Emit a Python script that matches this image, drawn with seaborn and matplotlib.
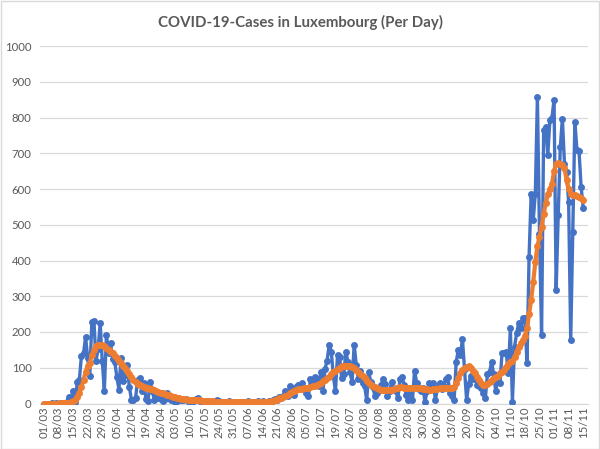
import numpy as np
import pandas as pd
import matplotlib
matplotlib.use("Agg")
import matplotlib.pyplot as plt
import seaborn as sns
from matplotlib.patches import Rectangle

TITLE = "COVID-19-Cases in Luxembourg (Per Day)"

tick_labels = ["01/03", "08/03", "15/03", "22/03", "29/03", "05/04", "12/04", "19/04",
               "26/04", "03/05", "10/05", "17/05", "24/05", "31/05", "07/06", "14/06",
               "21/06", "28/06", "05/07", "12/07", "19/07", "26/07", "02/08", "09/08",
               "16/08", "23/08", "30/08", "06/09", "13/09", "20/09", "27/09", "04/10",
               "11/10", "18/10", "25/10", "01/11", "08/11", "15/11"]

# Daily new cases, 01/03 .. 15/11
daily_mar = [0, 0, 0, 0, 1, 0, 1, 0, 1, 0, 2, 3, 19, 13, 35, 5, 59, 65, 134, 140, 186,
             128, 77, 228, 232, 120, 152, 225, 119, 36, 192]
daily_apr = [141, 168, 125, 117, 75, 39, 127, 64, 81, 108, 47, 11, 11, 15, 66, 71, 36,
             57, 13, 8, 60, 36, 11, 30, 16, 12, 6, 12, 28, 15]
daily_may = [11, 14, 5, 6, 10, 10, 9, 12, 7, 3, 2, 9, 12, 15, 6, 4, 3, 2, 8, 3, 5, 1, 10,
             7, 2, 4, 5, 3, 8, 4, 3]
daily_jun = [2, 1, 3, 5, 4, 2, 6, 3, 2, 5, 3, 7, 4, 6, 2, 5, 8, 6, 9, 12, 10, 18, 15, 22,
             35, 20, 48, 28, 24, 45]
daily_jul = [53, 50, 58, 40, 30, 20, 68, 60, 73, 68, 50, 87, 34, 97, 120, 165, 145, 77,
             34, 136, 131, 70, 82, 145, 116, 87, 60, 165, 107, 68, 90]
daily_aug = [58, 50, 10, 87, 60, 45, 20, 30, 40, 53, 68, 55, 20, 35, 60, 40, 34, 15, 68,
             73, 53, 25, 10, 39, 10, 92, 58, 40, 34, 44, 5]
daily_sep = [34, 58, 50, 58, 10, 44, 58, 40, 48, 68, 73, 29, 20, 10, 116, 150, 135, 180,
             97, 10, 55, 78, 68, 78, 53, 48, 44, 30, 15, 82]
daily_oct = [87, 116, 82, 34, 73, 56, 140, 140, 145, 84, 210, 5, 158, 196, 224, 210, 238,
             238, 112, 410, 587, 513, 587, 858, 475, 191, 765, 774, 695, 793, 800]
daily_nov = [850, 317, 527, 718, 797, 671, 648, 564, 178, 481, 788, 709, 705, 606, 547]

# 7-day average line, 01/03 .. 15/11
avg_mar = [0, 0, 0, 0, 0, 0, 0, 1, 1, 1, 1, 1, 2, 4, 8, 10, 18, 30, 47, 65, 88, 106, 113,
           135, 150, 160, 163, 164, 164, 160, 155]
avg_apr = [150, 145, 140, 134, 128, 120, 112, 105, 98, 90, 82, 74, 67, 60, 55, 51, 48, 46,
           44, 42, 41, 40, 37, 34, 32, 30, 29, 27, 25, 23]
avg_may = [21, 19, 17, 16, 14, 13, 12, 12, 11, 11, 10, 10, 10, 9, 9, 8, 8, 7, 7, 6, 6, 5,
           5, 5, 5, 5, 5, 5, 5, 4, 4]
avg_jun = [4, 4, 3, 3, 3, 3, 4, 4, 4, 4, 4, 4, 4, 5, 5, 5, 5, 6, 7, 9, 11, 14, 16, 19, 22,
           25, 28, 31, 34, 37]
avg_jul = [40, 40, 41, 42, 42, 43, 46, 48, 50, 52, 54, 58, 62, 66, 70, 75, 82, 88, 92, 96,
           100, 104, 105, 106, 106, 105, 102, 98, 94, 88, 82]
avg_aug = [76, 70, 64, 58, 52, 48, 45, 42, 40, 39, 38, 38, 38, 38, 39, 40, 42, 44, 46, 45,
           44, 43, 42, 42, 43, 44, 44, 43, 42, 41, 40]
avg_sep = [40, 39, 39, 40, 40, 41, 42, 42, 42, 43, 43, 42, 42, 45, 56, 70, 85, 95, 100,
           103, 105, 100, 92, 84, 75, 66, 58, 52, 52, 55]
avg_oct = [60, 66, 70, 73, 77, 84, 88, 94, 103, 110, 115, 118, 130, 145, 158, 168, 178,
           190, 210, 250, 290, 340, 396, 440, 465, 494, 530, 560, 585, 600, 615]
avg_nov = [650, 670, 673, 670, 668, 660, 625, 600, 585, 583, 583, 580, 578, 574, 569]

daily = (daily_mar + daily_apr + daily_may + daily_jun + daily_jul + daily_aug +
         daily_sep + daily_oct + daily_nov)
avg = (avg_mar + avg_apr + avg_may + avg_jun + avg_jul + avg_aug + avg_sep + avg_oct +
       avg_nov)
days = np.arange(len(daily))
df = pd.DataFrame({"day": days, "daily": daily, "avg": avg})

sns.set_theme(style="white")
plt.rcParams['font.family'] = ['Lato', 'DejaVu Sans']

W, H = 600, 449
fig = plt.figure(figsize=(W / 100, H / 100), dpi=100)
ax = fig.add_axes([40 / W, 1 - 403.5 / H, 548 / W, (403.5 - 46) / H])

sns.lineplot(data=df, x="day", y="daily", ax=ax, color="#4472C4", linewidth=2.4,
             marker="o", markersize=5.0, markeredgewidth=0, zorder=3)
sns.lineplot(data=df, x="day", y="avg", ax=ax, color="#ED7D31", linewidth=3.0,
             marker="o", markersize=5.0, markeredgewidth=0, zorder=4)

ax.set_xlim(-1.9, 261.3)
ax.set_ylim(0, 1000)
ax.set_yticks(range(0, 1001, 100))
ax.set_xticks(days[::7])
ax.set_xticklabels(tick_labels, rotation=90)
ax.set_xlabel("")
ax.set_ylabel("")
ax.yaxis.grid(True, color="#D9D9D9", linewidth=0.9)
ax.xaxis.grid(False)
ax.set_axisbelow(True)
for s in ["top", "right", "left"]:
    ax.spines[s].set_visible(False)
ax.spines["bottom"].set_color("#D9D9D9")
ax.spines["bottom"].set_linewidth(0.9)
ax.tick_params(axis="y", length=0, pad=6, labelsize=8.2, labelcolor="#595959")
ax.tick_params(axis="x", length=0, pad=2, labelsize=8.2, labelcolor="#595959")

fig.text(0.5, 1 - 22 / H, TITLE, ha="center", va="center", fontsize=10.8,
         fontweight="bold", color="#595959")

fig.patches.append(Rectangle((0.5 / W, 0.5 / H), 1 - 1.5 / W, 1 - 1.5 / H,
                             transform=fig.transFigure, fill=False,
                             edgecolor="#D9D9D9", linewidth=1.0))

fig.savefig("out.png", dpi=100)
